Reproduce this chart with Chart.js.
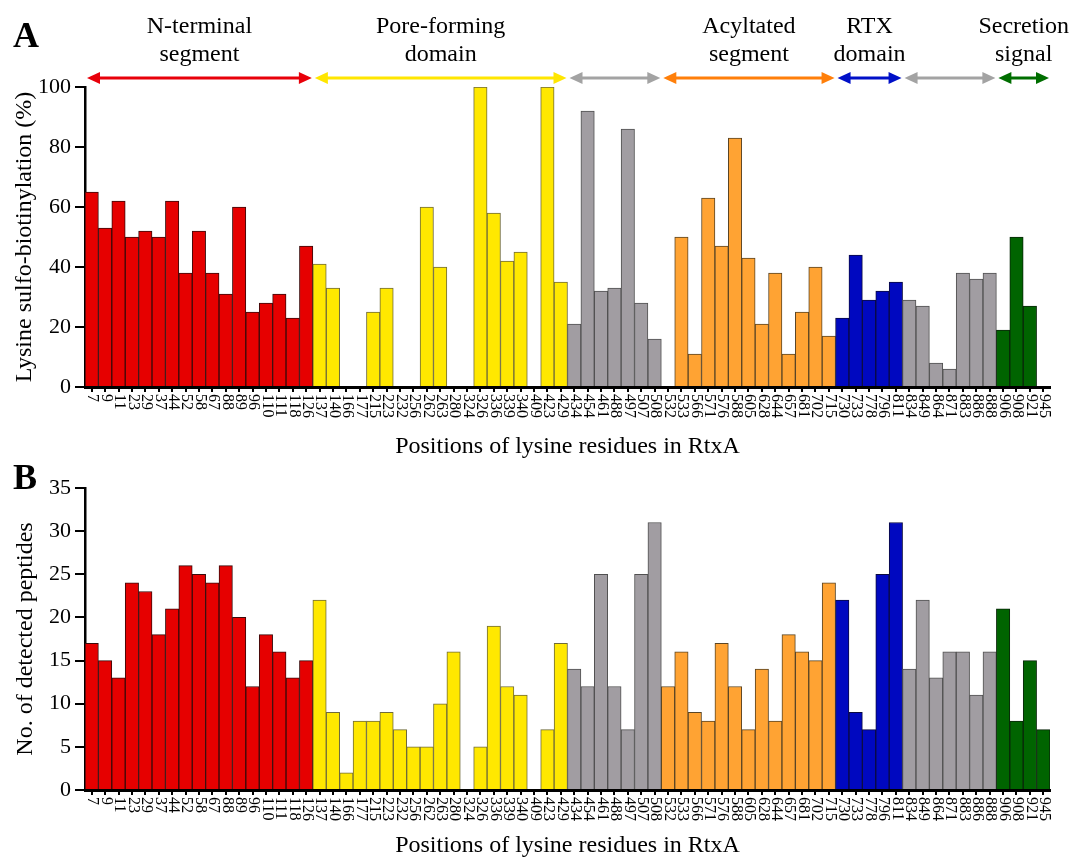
<!DOCTYPE html>
<html>
<head>
<meta charset="utf-8">
<script src="https://cdn.jsdelivr.net/npm/chart.js@4.4.0/dist/chart.umd.min.js"></script>
<style>
html, body { margin: 0; padding: 0; background: #fff; }
#wrapA { position: absolute; left: 0; top: 0; width: 1072px; height: 461px; }
#wrapB { position: absolute; left: 0; top: 461px; width: 1072px; height: 397px; }
</style>
</head>
<body>
<div id="wrapA"><canvas id="chartA"></canvas></div>
<div id="wrapB"><canvas id="chartB"></canvas></div>
<script>
// lysine positions (x categories)
var positions = ['7','9','11','23','29','37','44','52','58','67','88','89','96','110','111','118','126',
  '137','140','166','177','215','223','232','256','262','263','280','324','326','336','339','340','409','423','429',
  '434','454','461','488','497','507','508','532',
  '533','566','571','576','588','605','628','644','657','681','702','715',
  '730','733','778','796','811',
  '834','849','864','871','883','886','888',
  '906','908','921','945'];

// panel A: lysine sulfo-biotinylation (%)
var biotinylation = [65,53,62,50,52,50,62,38,52,38,31,60,25,28,31,23,47,
  41,33,0,0,25,33,0,0,60,40,0,0,100,58,42,45,0,100,35,
  21,92,32,33,86,28,16,0,
  50,11,63,47,83,43,21,38,11,25,40,17,
  23,44,29,32,35,
  29,27,8,6,38,36,38,
  19,50,27,0];

// panel B: number of detected peptides
var peptides = [17,15,13,24,23,18,21,26,25,24,26,20,12,18,16,13,15,
  22,9,2,8,8,9,7,5,5,10,16,0,5,19,12,11,0,7,17,
  14,12,25,12,7,25,31,
  12,16,9,8,17,12,7,14,8,18,16,15,24,
  22,9,7,25,31,
  14,22,13,16,16,11,16,
  21,8,15,7];

// regions (run lengths along the categories)
var regionNames = ['nterm','pore','linker','acyl','rtx','linker','secretion'];
var regionCountsA = [17,19,8,12,5,7,4];
var regionCountsB = [17,19,7,13,5,7,4];
var regionLabels = [['N-terminal','segment'],['Pore-forming','domain'],null,['Acyltated','segment'],['RTX','domain'],null,['Secretion','signal']];

var barFill = { nterm:'#e60000', pore:'#ffe800', linker:'#a19da2', acyl:'#ffa333', rtx:'#0008c0', secretion:'#006400' };
var barEdge = { nterm:'#3a0a0a', pore:'#6f6a3a', linker:'#505050', acyl:'#5a4525', rtx:'#0a0a40', secretion:'#0a260a' };
var arrowColor = { nterm:'#e8000a', pore:'#ffe600', linker:'#a3a3a3', acyl:'#ff7f0a', rtx:'#0010c8', secretion:'#006e00' };

var serif = "'Liberation Serif', 'Times New Roman', serif";

function expand(counts, map) {
  var out = [];
  counts.forEach(function(n, k){
    for (var i = 0; i < n; i++) out.push(map[regionNames[k]]);
  });
  return out;
}

// vertical labels reading downward, starting under the axis
var tickLabelPlugin = {
  id: 'tickLabels',
  afterDraw: function(chart) {
    var xs = chart.scales.x;
    var ctx = chart.ctx;
    ctx.save();
    ctx.font = '16px ' + serif;
    ctx.fillStyle = '#000';
    ctx.textAlign = 'left';
    ctx.textBaseline = 'middle';
    chart.data.labels.forEach(function(lab, i){
      var x = xs.getPixelForTick(i);
      ctx.save();
      ctx.translate(x + 1, xs.top + 7);
      ctx.rotate(Math.PI / 2);
      ctx.fillText(lab, 0, 0);
      ctx.restore();
    });
    ctx.restore();
  }
};

var panelLetterPlugin = {
  id: 'panelLetter',
  afterDraw: function(chart, args, opts) {
    var ctx = chart.ctx;
    ctx.save();
    ctx.font = 'bold 36px ' + serif;
    ctx.fillStyle = '#000';
    ctx.textAlign = 'left';
    ctx.textBaseline = 'alphabetic';
    ctx.fillText(opts.text, 13, opts.y);
    ctx.restore();
  }
};

var domainPlugin = {
  id: 'domains',
  afterDraw: function(chart) {
    if (!chart.options.plugins.domains.show) return;
    var xs = chart.scales.x;
    var ctx = chart.ctx;
    var w = xs.getPixelForValue(1) - xs.getPixelForValue(0);
    var y = 78, head = 13, half = 6;
    var start = 0;
    ctx.save();
    regionCountsB.forEach(function(n, k){
      var x0 = xs.getPixelForValue(start) - w / 2 + 2;
      var x1 = xs.getPixelForValue(start + n - 1) + w / 2 - 1;
      start += n;
      var col = arrowColor[regionNames[k]];
      ctx.strokeStyle = col;
      ctx.fillStyle = col;
      ctx.lineWidth = 3;
      ctx.beginPath();
      ctx.moveTo(x0 + head - 2, y);
      ctx.lineTo(x1 - head + 2, y);
      ctx.stroke();
      ctx.beginPath();
      ctx.moveTo(x0, y); ctx.lineTo(x0 + head, y - half); ctx.lineTo(x0 + head, y + half); ctx.closePath();
      ctx.fill();
      ctx.beginPath();
      ctx.moveTo(x1, y); ctx.lineTo(x1 - head, y - half); ctx.lineTo(x1 - head, y + half); ctx.closePath();
      ctx.fill();
      var lab = regionLabels[k];
      if (lab) {
        ctx.fillStyle = '#000';
        ctx.font = '24px ' + serif;
        ctx.textAlign = 'center';
        ctx.textBaseline = 'alphabetic';
        var mid = (x0 + x1) / 2;
        var wid = Math.max(ctx.measureText(lab[0]).width, ctx.measureText(lab[1]).width);
        if (mid + wid / 2 > chart.width - 2) mid = chart.width - 2 - wid / 2;
        ctx.fillText(lab[0], mid, 33);
        ctx.fillText(lab[1], mid, 61);
      }
    });
    ctx.restore();
  }
};

function makeConfig(values, counts, yMax, yStep, yTitle, titlePad, xTitleLH, xHeight, padTop, letter, letterY, showDomains) {
  return {
    type: 'bar',
    data: {
      labels: positions,
      datasets: [{
        data: values,
        backgroundColor: expand(counts, barFill),
        borderColor: expand(counts, barEdge),
        borderWidth: 1,
        categoryPercentage: 1.0,
        barPercentage: 1.0
      }]
    },
    options: {
      responsive: true,
      maintainAspectRatio: false,
      animation: false,
      layout: { padding: { top: padTop, right: 22, left: 0, bottom: 0 } },
      plugins: {
        legend: { display: false },
        tooltip: { enabled: false },
        domains: { show: showDomains },
        panelLetter: { text: letter, y: letterY }
      },
      scales: {
        x: {
          offset: true,
          grid: { offset: false, drawOnChartArea: false, drawTicks: true, tickLength: 5, color: '#000', lineWidth: 2 },
          border: { display: true, color: '#000', width: 3 },
          ticks: { autoSkip: false, minRotation: 90, maxRotation: 90, color: 'rgba(0,0,0,0)', font: { size: 16, family: serif } },
          title: { display: true, text: 'Positions of lysine residues in RtxA', color: '#000',
                   font: { size: 24, family: serif, lineHeight: xTitleLH }, padding: 0 },
          afterFit: function(s){ s.height = xHeight; }
        },
        y: {
          min: 0, max: yMax,
          grid: { drawOnChartArea: false, drawTicks: true, tickLength: 10, color: '#000', lineWidth: 2 },
          border: { display: true, color: '#000', width: 2.5 },
          ticks: { stepSize: yStep, color: '#000', padding: 4, font: { size: 22, family: serif } },
          title: { display: true, text: yTitle, color: '#000', font: { size: 24, family: serif }, padding: { top: titlePad, bottom: 0 } },
          afterFit: function(s){ s.width = 85; }
        }
      }
    },
    plugins: [tickLabelPlugin, panelLetterPlugin, domainPlugin]
  };
}

var chartA = new Chart(document.getElementById('chartA'),
  makeConfig(biotinylation, regionCountsA, 100, 20, 'Lysine sulfo-biotinylation (%)', 10, 1.2, 74, 87, 'A', 47, true));
var chartB = new Chart(document.getElementById('chartB'),
  makeConfig(peptides, regionCountsB, 35, 5, 'No. of detected peptides', 11, 1.0, 68, 27, 'B', 28, false));
</script>
</body>
</html>
